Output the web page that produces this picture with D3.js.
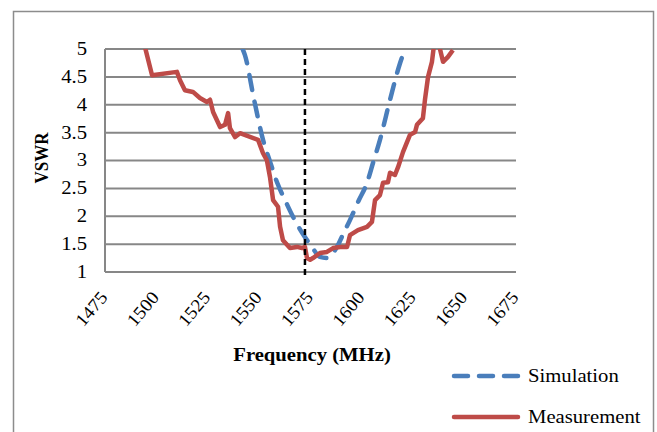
<!DOCTYPE html>
<html>
<head>
<meta charset="utf-8">
<script src="https://cdn.jsdelivr.net/npm/d3@7"></script>
<style>
  body { margin: 0; background: #fff; }
  text { font-family: "Liberation Serif", "Times New Roman", serif; fill: #000; }
</style>
</head>
<body>
<div class="chart"></div>
<script>
// ticks
const xTicks = [1475, 1500, 1525, 1550, 1575, 1600, 1625, 1650, 1675]
const yTicks = [1, 1.5, 2, 2.5, 3, 3.5, 4, 4.5, 5]
const markerFreq = 1572.3

// simulation curve
const simFreq = [1542, 1543.1, 1547.5, 1551.9, 1555.3, 1558.7, 1562.6, 1566.5, 1571, 1575.7, 1579.6, 1583, 1587.9, 1591, 1594.2, 1598.3, 1602.5, 1605.6, 1608.8, 1613.7, 1618.6, 1621]
const simVswr = [5.0, 4.89, 4.1, 3.37, 2.98, 2.61, 2.29, 1.99, 1.70, 1.45, 1.27, 1.25, 1.45, 1.69, 1.93, 2.27, 2.60, 2.98, 3.37, 4.09, 4.75, 5.0]

// measured curve
const measFreq = [1494, 1497.9, 1510, 1511.5, 1513.9, 1517.8, 1521.2, 1524.6, 1526.1, 1527.6,
  1531, 1533.4, 1534.9, 1535.8, 1538.3, 1540.7, 1549.5, 1551.9, 1553.8, 1555.3,
  1556.8, 1559.2, 1560.2, 1561.6, 1565, 1568.4, 1570.9, 1572.3, 1573.3, 1574.8,
  1576.2, 1579.6, 1583, 1586, 1589.4, 1592.8, 1594.2, 1598.1, 1602.5, 1604.9,
  1606.4, 1608.8, 1610.3, 1612.7, 1613.7, 1616.1, 1617.6, 1620, 1623.4, 1625.9,
  1626.8, 1629.7, 1630.7, 1632.2, 1634.1, 1635.2, 1636.5, 1638, 1639.5, 1641.9,
  1644.3]
const measVswr = [5.1, 4.53, 4.59, 4.44, 4.26, 4.23, 4.12, 4.05, 4.09, 3.87,
  3.60, 3.64, 3.85, 3.58, 3.42, 3.49, 3.37, 3.13, 3.0, 2.70,
  2.29, 2.17, 1.81, 1.57, 1.43, 1.45, 1.43, 1.45, 1.25, 1.22,
  1.25, 1.34, 1.36, 1.43, 1.45, 1.45, 1.66, 1.75, 1.81, 1.90,
  2.29, 2.38, 2.60, 2.61, 2.78, 2.74, 2.88, 3.15, 3.46, 3.51,
  3.64, 3.76, 4.09, 4.50, 4.77, 5.1, 5.2, 5.0, 4.77, 4.86,
  4.98]

const seriesNames = ["Simulation", "Measurement"]

const width = 657
const height = 432
const stretch = 1.15
const gridColor = "#878787"
const blue = "#4a7ebb"
const red = "#be4b48"

const svg = d3.select(".chart").append("svg")
  .attr("width", width)
  .attr("height", height)

// outer frame
svg.append("rect")
  .attr("x", 13.5).attr("y", 11.5)
  .attr("width", 640).attr("height", 440)
  .attr("fill", "none")
  .attr("stroke", "#8c8c8c")
  .attr("stroke-width", 1.5)

let xScale = d3.scaleLinear()
  .domain([1475, 1675])
  .range([105, 516])

let yScale = d3.scaleLinear()
  .domain([1, 5])
  .range([272, 49])

// horizontal grid
svg.append("g")
  .selectAll("line")
  .data(yTicks)
  .join("line")
  .attr("x1", xScale(1475))
  .attr("x2", xScale(1675))
  .attr("y1", d => yScale(d))
  .attr("y2", d => yScale(d))
  .attr("stroke", gridColor)
  .attr("stroke-width", 2)

// y axis line
svg.append("line")
  .attr("x1", xScale(1475)).attr("x2", xScale(1475))
  .attr("y1", yScale(5)).attr("y2", yScale(1))
  .attr("stroke", gridColor)
  .attr("stroke-width", 2)

// y tick labels
svg.append("g")
  .selectAll("text")
  .data(yTicks)
  .join("text")
  .attr("transform", d => `translate(87,${yScale(d)}) scale(${stretch},1)`)
  .attr("dy", "0.33em")
  .attr("text-anchor", "end")
  .style("font-size", "18px")
  .text(d => d)

// x tick labels
svg.append("g")
  .selectAll("text")
  .data(xTicks)
  .join("text")
  .attr("transform", d => `translate(${xScale(d) - 1},294) rotate(-50) scale(1.08,1)`)
  .attr("dy", "0.33em")
  .attr("text-anchor", "end")
  .style("font-size", "18px")
  .text(d => d)

// axis titles
svg.append("text")
  .attr("transform", `translate(312,361) scale(${stretch},1)`)
  .attr("text-anchor", "middle")
  .style("font-size", "18px")
  .style("font-weight", "bold")
  .text("Frequency (MHz)")

svg.append("text")
  .attr("transform", `translate(48,158) scale(${stretch},1) rotate(-90)`)
  .attr("text-anchor", "middle")
  .style("font-size", "17px")
  .style("font-weight", "bold")
  .text("VSWR")

// clip to the plot area
svg.append("clipPath")
  .attr("id", "plot-clip")
  .append("rect")
  .attr("x", xScale(1475)).attr("y", yScale(5))
  .attr("width", xScale(1675) - xScale(1475))
  .attr("height", 260)

let line = d3.line()
  .x(d => xScale(d[0]))
  .y(d => yScale(d[1]))

let simData = simFreq.map((f, i) => [f, simVswr[i]])
let measData = measFreq.map((f, i) => [f, measVswr[i]])

let plot = svg.append("g").attr("clip-path", "url(#plot-clip)")

plot.append("path")
  .datum(simData)
  .attr("d", line.curve(d3.curveMonotoneX))
  .attr("fill", "none")
  .attr("stroke", blue)
  .attr("stroke-width", 4.5)
  .attr("stroke-linecap", "round")
  .attr("stroke-dasharray", "15,12")

plot.append("path")
  .datum(measData)
  .attr("d", line.curve(d3.curveLinear))
  .attr("fill", "none")
  .attr("stroke", red)
  .attr("stroke-width", 4.5)
  .attr("stroke-linejoin", "round")

// marker line
svg.append("line")
  .attr("x1", xScale(markerFreq)).attr("x2", xScale(markerFreq))
  .attr("y1", yScale(5)).attr("y2", yScale(1) + 6)
  .attr("stroke", "#000")
  .attr("stroke-width", 2.5)
  .attr("stroke-dasharray", "6,4")

// legend
let legend = svg.append("g")
  .selectAll("g")
  .data(seriesNames)
  .join("g")
  .attr("transform", (d, i) => `translate(0,${376 + i * 41})`)

legend.append("line")
  .attr("x1", 454).attr("x2", 518)
  .attr("y1", 0).attr("y2", 0)
  .attr("stroke", (d, i) => i == 0 ? blue : red)
  .attr("stroke-width", 4.5)
  .attr("stroke-linecap", "round")
  .attr("stroke-dasharray", (d, i) => i == 0 ? "14,11" : null)

legend.append("text")
  .attr("transform", `translate(528,0) scale(${stretch},1)`)
  .attr("dy", "0.33em")
  .style("font-size", "18px")
  .text(d => d)
</script>
</body>
</html>
